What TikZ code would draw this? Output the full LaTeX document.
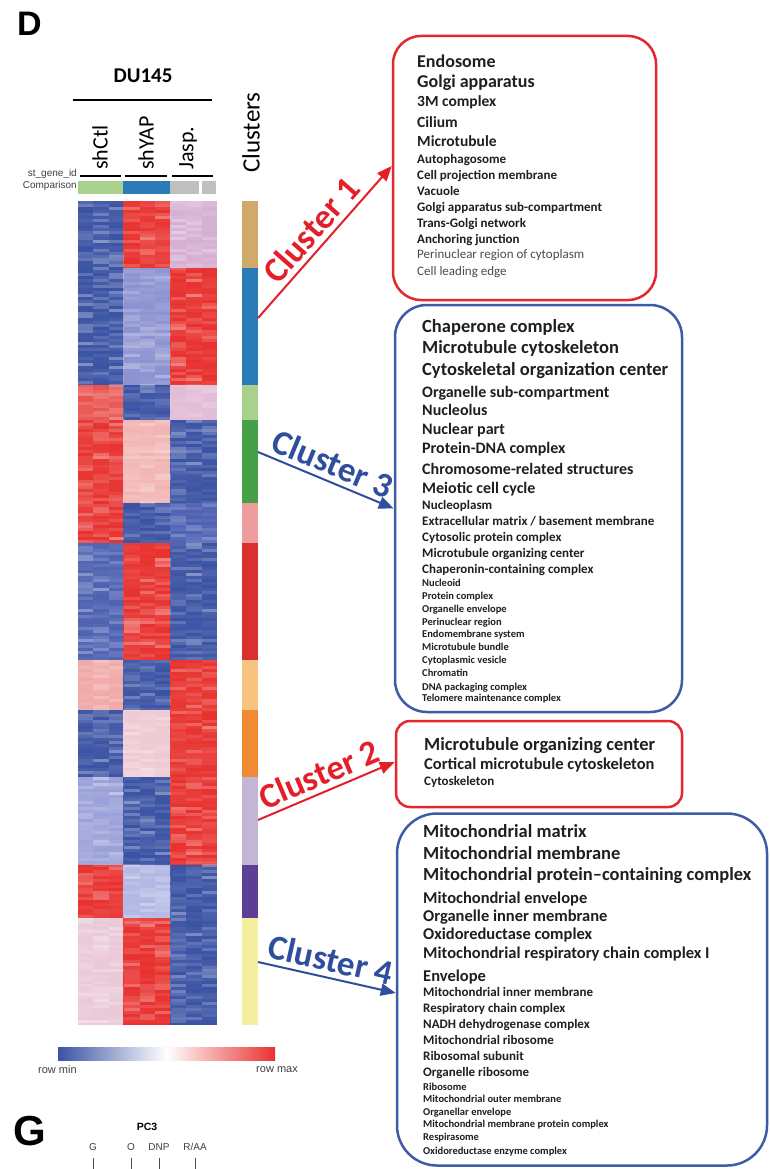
\documentclass[tikz,border=0pt]{standalone}
\usepackage{fontspec}
\setmainfont{Carlito}
\newfontfamily\arialfont{Liberation Sans}
\usetikzlibrary{arrows.meta}

\definecolor{hmblue}{HTML}{3B53A4}
\definecolor{hmbluel}{HTML}{4E62B2}
\definecolor{hmred}{HTML}{E8322F}
\definecolor{hmredl}{HTML}{E9534F}
\definecolor{hmlav}{HTML}{D6AFD3}
\definecolor{hmlblue}{HTML}{8D93D1}
\definecolor{hmlblueb}{HTML}{9AA0D9}
\definecolor{hmlbluec}{HTML}{B2B7E3}
\definecolor{hmpink}{HTML}{F2B4B3}
\definecolor{hmpinkb}{HTML}{F0A9A8}
\definecolor{hmpinkc}{HTML}{E3BCD8}
\definecolor{hmpale}{HTML}{EFC9D3}
\definecolor{hmpaleb}{HTML}{EAC9D9}
\definecolor{clTan}{HTML}{D1AA6A}
\definecolor{clBlue}{HTML}{2B7BB9}
\definecolor{clLgreen}{HTML}{A9D18E}
\definecolor{clGreen}{HTML}{45A047}
\definecolor{clPink}{HTML}{EE9C9D}
\definecolor{clRed}{HTML}{D8312E}
\definecolor{clLorange}{HTML}{F6C47E}
\definecolor{clOrange}{HTML}{F08A33}
\definecolor{clLav}{HTML}{C3B5D6}
\definecolor{clPurple}{HTML}{5C3F96}
\definecolor{clYellow}{HTML}{F4EFA0}
\definecolor{boxred}{HTML}{E6262D}
\definecolor{boxblue}{HTML}{3F5AA7}
\definecolor{labred}{HTML}{E51F2A}
\definecolor{labblue}{HTML}{2F4E9E}

\newcommand{\fs}[1]{\fontsize{#1}{#1}\selectfont}

\tikzset{
  gobox/.style={draw, line width=2.5pt, rounded corners=#1, inner sep=0pt},
  gobox/.default=28pt,
  goline/.style={anchor=base west, inner sep=0pt, text=black!88},
  clabel/.style={font=\bfseries\fs{35}, inner sep=0pt, above=5pt},
  collab/.style={rotate=90, anchor=west, inner sep=0pt, font=\fs{22}},
  smalltxt/.style={font=\arialfont\fs{10}, text=black!75, inner sep=0pt}
}

\begin{document}
\begin{tikzpicture}[x=1pt, y=-1pt, >={Triangle[length=15pt,width=12pt]}]
\useasboundingbox (0,0) rectangle (770,1169);
\fill[white] (0,0) rectangle (770,1169);

% panel letters
\node[font=\arialfont\bfseries\fs{34}, anchor=north west, inner sep=0pt] (pD) at (17,12) {D};
\node[font=\arialfont\bfseries\fs{42}, anchor=north west, inner sep=0pt] (pG) at (13,1116) {G};

% header of the heatmap
\node[font=\bfseries\fs{21}] (du) at (143,76) {DU145};
\draw[line width=2.5pt] (73,100) -- (212,100);
\foreach \x/\txt [count=\i] in {100/shCtl,146/shYAP,188/Jasp.}
  \node[collab] (col\i) at (\x,170) {\txt};
\node[collab, font=\fs{25}] (clu) at (251,173) {Clusters};

\node[smalltxt, anchor=east] (gid) at (77,174) {st\_gene\_id};
\node[smalltxt, anchor=east] (cmp) at (77,186) {Comparison};
\foreach \a/\b in {80/121,125/167,172/213}
  \draw[line width=2pt] (\a,176.5) -- (\b,176.5);
\fill[clLgreen] (78,181) rectangle (123,194);
\fill[clBlue] (123,181) rectangle (170,194);
\fill[black!25] (170,181) rectangle (199,194);
\fill[black!25] (202,181) rectangle (216,194);

% heatmap blocks and cluster bar
\foreach \ya/\yb/\ca/\cb/\cc/\cl in {
  201/268/hmblue/hmred/hmlav/clTan,
  268/385/hmblue/hmlblue/hmred/clBlue,
  385/420/hmredl/hmblue/hmpinkc/clLgreen,
  420/503/hmred/hmpink/hmblue/clGreen,
  503/543/hmred/hmblue/hmbluel/clPink,
  543/660/hmbluel/hmred/hmblue/clRed,
  660/710/hmpinkb/hmblue/hmred/clLorange,
  710/777/hmblue/hmpale/hmred/clOrange,
  777/865/hmlblueb/hmblue/hmred/clLav,
  865/918/hmred/hmlbluec/hmblue/clPurple,
  918/1025/hmpaleb/hmred/hmblue/clYellow}
{
  \fill[\ca] (78,\ya) rectangle (123,\yb);
  \fill[\cb] (123,\ya) rectangle (170,\yb);
  \fill[\cc] (170,\ya) rectangle (217,\yb);
  \fill[\cl] (242,\ya) rectangle (258,\yb);
}
% row texture
\pgfmathsetseed{17}
\foreach \c in {0,...,8}
  \foreach \r in {201,204,...,1022}
  {
    \pgfmathsetmacro\o{0.4*rnd*rnd}
    \fill[white, opacity=\o] ({78+\c*15.444},\r) rectangle ({93.444+\c*15.444},\r+3);
  }

% colour key
\shade[left color=hmblue, right color=hmred, middle color=white] (58,1047) rectangle (275,1060);
\node[smalltxt, anchor=west, font=\arialfont\fs{11}] (rmin) at (38,1070) {row min};
\node[smalltxt, anchor=east, font=\arialfont\fs{11}] (rmax) at (298,1070) {row max};

% panel G
\node[font=\arialfont\bfseries\fs{10.5}] (pc) at (147,1127) {PC3};
\foreach \x/\txt [count=\i] in {93/G,131/O,159/DNP,195/{R/AA}}
{
  \node[smalltxt] (cond\i) at (\x,1147) {\txt};
  \draw[line width=1pt, black!70] (\x,1158) -- (\x,1170);
}

% GO term boxes
\node[gobox, boxred, minimum width=263pt, minimum height=264pt] (box1) at (524.5,168) {};
\node[gobox=32pt, boxblue, minimum width=287pt, minimum height=407pt] (box3) at (538.5,508.5) {};
\node[gobox=14pt, boxred, minimum width=286pt, minimum height=86pt] (box2) at (539,764) {};
\node[gobox=40pt, boxblue, minimum width=370pt, minimum height=352pt] (box4) at (582,989.5) {};

\foreach \y/\s/\txt [count=\i] in {62/18/Endosome, 82/18/Golgi apparatus,
  102/15.5/3M complex, 123/15.5/Cilium, 142/15.5/Microtubule,
  159/13/Autophagosome, 175/13/Cell projection membrane, 191/13/Vacuole,
  207/13/Golgi apparatus sub-compartment, 223/13/Trans-Golgi network,
  239/13/Anchoring junction}
  \node[goline, font=\bfseries\fs{\s}] (a\i) at (417,\y+0.32*\s) {\txt};
\node[goline, font=\fs{13}, text=black!70] (a12) at (417,254+4.2) {Perinuclear region of cytoplasm};
\node[goline, font=\fs{13}, text=black!70] (a13) at (417,271+4.2) {Cell leading edge};

\foreach \y/\s/\txt [count=\i] in {327/18.5/Chaperone complex,
  348/18.5/Microtubule cytoskeleton, 370/18.5/Cytoskeletal organization center,
  392/16/Organelle sub-compartment, 410/16/Nucleolus, 429/16/Nuclear part,
  448/16/Protein-DNA complex, 469/16/Chromosome-related structures,
  488/16/Meiotic cell cycle, 505/13/Nucleoplasm,
  521/13/{Extracellular matrix / basement membrane},
  537/13/Cytosolic protein complex, 553/13/Microtubule organizing center,
  569/13/Chaperonin-containing complex, 583/10.5/Nucleoid,
  596/10.5/Protein complex, 609/10.5/Organelle envelope,
  622/10.5/Perinuclear region, 634/10.5/Endomembrane system,
  647/10.5/Microtubule bundle, 660/10.5/Cytoplasmic vesicle,
  673/10.5/Chromatin, 687/10.5/DNA packaging complex,
  698/10.5/Telomere maintenance complex}
  \node[goline, font=\bfseries\fs{\s}] (c\i) at (422,\y+0.32*\s) {\txt};

\foreach \y/\s/\txt [count=\i] in {745/18.5/Microtubule organizing center,
  764/16.5/Cortical microtubule cytoskeleton, 781/13/Cytoskeleton}
  \node[goline, font=\bfseries\fs{\s}] (b\i) at (424,\y+0.32*\s) {\txt};

\foreach \y/\s/\txt [count=\i] in {832/18.5/Mitochondrial matrix,
  854/18.5/Mitochondrial membrane,
  875/18.5/Mitochondrial protein--containing complex,
  898/16.5/Mitochondrial envelope, 916/16.5/Organelle inner membrane,
  934/16.5/Oxidoreductase complex,
  953/16.5/Mitochondrial respiratory chain complex I, 976/16.5/Envelope,
  992/13/Mitochondrial inner membrane, 1008/13/Respiratory chain complex,
  1024/13/NADH dehydrogenase complex, 1040/13/Mitochondrial ribosome,
  1056/13/Ribosomal subunit, 1072/13/Organelle ribosome,
  1087/10.5/Ribosome, 1099/10.5/Mitochondrial outer membrane,
  1112/10.5/Organellar envelope, 1124/10.5/Mitochondrial membrane protein complex,
  1137/10.5/Respirasome, 1151/10.5/Oxidoreductase enzyme complex}
  \node[goline, font=\bfseries\fs{\s}] (d\i) at (423,\y+0.32*\s) {\txt};

% cluster arrows
\coordinate (k1) at (258,318);
\coordinate (k3) at (258,452);
\coordinate (k2) at (258,820);
\coordinate (k4) at (258,962);
\draw[->, labred, line width=2pt] (k1) -- node[clabel, sloped] (lab1) {Cluster 1} ([yshift=2pt]box1.west);
\draw[->, labblue, line width=2pt] (k3) -- node[clabel, sloped] (lab3) {Cluster 3} (box3.west);
\draw[->, labred, line width=2pt] (k2) -- node[clabel, sloped] (lab2) {Cluster 2} ([yshift=2pt]box2.west);
\draw[->, labblue, line width=2pt] (k4) -- node[clabel, sloped] (lab4) {Cluster 4} ([yshift=-3.5pt]box4.west);
\end{tikzpicture}
\end{document}
